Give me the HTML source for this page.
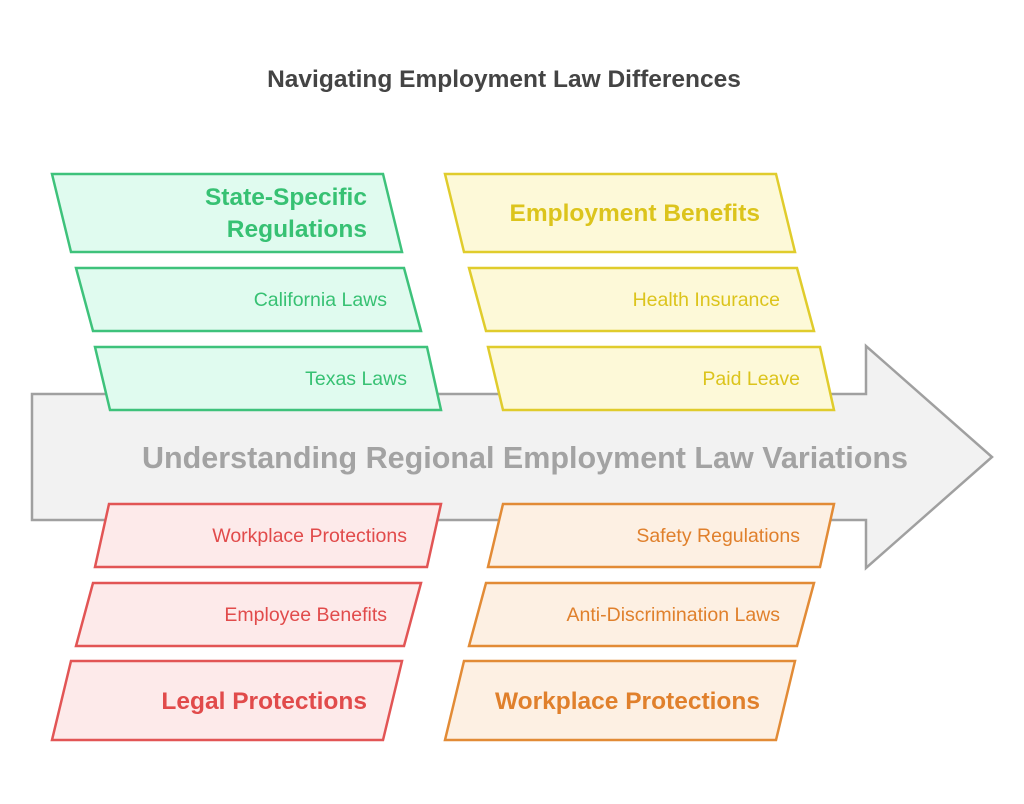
<!DOCTYPE html>
<html><head><meta charset="utf-8"><style>
html,body{margin:0;padding:0;background:#fff;}
svg{display:block;font-family:"Liberation Sans",Arial,sans-serif;}
</style></head><body>
<svg width="1024" height="804" viewBox="0 0 1024 804" xmlns="http://www.w3.org/2000/svg">
<text x="504" y="87" text-anchor="middle" font-size="24.5" font-weight="bold" fill="#444">Navigating Employment Law Differences</text>
<polygon points="32,394 866,394 866,346 992,457 866,568 866,520 32,520" fill="#f2f2f2" stroke="#a0a0a0" stroke-width="2.5"/>
<text x="525" y="468" text-anchor="middle" font-size="30.5" font-weight="bold" fill="#a3a3a3">Understanding Regional Employment Law Variations</text>

<g stroke="#3ec27b" stroke-width="2.5" fill="#e0fbef">
<polygon points="52,174 383,174 402,252 71,252"/>
<polygon points="76,268 404,268 421,331 93,331"/>
<polygon points="95,347 427,347 441,410 110,410"/>
</g>
<g fill="#37c173">
<text x="367" y="205" text-anchor="end" font-size="24.5" font-weight="bold">State-Specific</text>
<text x="367" y="237" text-anchor="end" font-size="24.5" font-weight="bold">Regulations</text>
<text x="387" y="306" text-anchor="end" font-size="19.5">California Laws</text>
<text x="407" y="385" text-anchor="end" font-size="19.5">Texas Laws</text>
</g>

<g stroke="#e0cc2c" stroke-width="2.5" fill="#fdf9d8">
<polygon points="445,174 776,174 795,252 464,252"/>
<polygon points="469,268 797,268 814,331 486,331"/>
<polygon points="488,347 820,347 834,410 503,410"/>
</g>
<g fill="#dcc41c">
<text x="760" y="221" text-anchor="end" font-size="24.5" font-weight="bold">Employment Benefits</text>
<text x="780" y="306" text-anchor="end" font-size="19.5">Health Insurance</text>
<text x="800" y="385" text-anchor="end" font-size="19.5">Paid Leave</text>
</g>

<g stroke="#e25555" stroke-width="2.5" fill="#fdeaea">
<polygon points="109,504 441,504 427,567 95,567"/>
<polygon points="93,583 421,583 404,646 76,646"/>
<polygon points="71,661 402,661 383,740 52,740"/>
</g>
<g fill="#e14b4b">
<text x="407" y="542" text-anchor="end" font-size="19.5">Workplace Protections</text>
<text x="387" y="621" text-anchor="end" font-size="19.5">Employee Benefits</text>
<text x="367" y="709" text-anchor="end" font-size="24.5" font-weight="bold">Legal Protections</text>
</g>

<g stroke="#e28b36" stroke-width="2.5" fill="#fdf0e3">
<polygon points="503,504 834,504 820,567 488,567"/>
<polygon points="486,583 814,583 797,646 469,646"/>
<polygon points="464,661 795,661 776,740 445,740"/>
</g>
<g fill="#e0802c">
<text x="800" y="542" text-anchor="end" font-size="19.5">Safety Regulations</text>
<text x="780" y="621" text-anchor="end" font-size="19.5">Anti-Discrimination Laws</text>
<text x="760" y="709" text-anchor="end" font-size="24.5" font-weight="bold">Workplace Protections</text>
</g>
</svg>
</body></html>
